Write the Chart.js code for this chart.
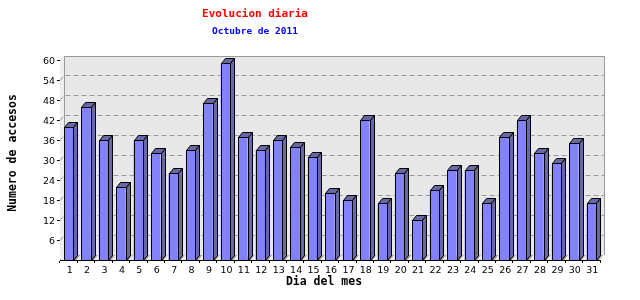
<!DOCTYPE html>
<html>
<head>
<meta charset="utf-8">
<title>Evolucion diaria</title>
<script src="https://cdn.jsdelivr.net/npm/chart.js@4/dist/chart.umd.min.js"></script>
<style>
  html, body { margin: 0; padding: 0; background: #fff; }
  #wrap { width: 640px; height: 300px; position: relative; }
</style>
</head>
<body>
<div id="wrap"><canvas id="chart"></canvas></div>
<script>
"use strict";

var days = [];
for (var d = 1; d <= 31; d++) days.push(String(d));
var accesos = [40, 46, 36, 22, 36, 32, 26, 33, 47, 59, 37, 33, 36, 34, 31, 20,
  18, 42, 17, 26, 12, 21, 27, 27, 17, 37, 42, 32, 29, 35, 17];
var yTicks = [6, 12, 18, 24, 30, 36, 42, 48, 54, 60];

var titleText = 'Evolucion diaria';
var subtitleText = 'Octubre de 2011';
var xTitle = 'Dia del mes';
var yTitle = 'Numero de accesos';

var DEPTH_X = 4;
var DEPTH_Y = 5;
var MONO = '"DejaVu Sans Mono", monospace';

function poly(ctx, pts, fill, stroke) {
  ctx.beginPath();
  ctx.moveTo(pts[0][0], pts[0][1]);
  for (var i = 1; i < pts.length; i++) ctx.lineTo(pts[i][0], pts[i][1]);
  ctx.closePath();
  if (fill) { ctx.fillStyle = fill; ctx.fill(); }
  if (stroke) { ctx.strokeStyle = stroke; ctx.lineWidth = 1; ctx.stroke(); }
}

// back wall, floor and the dashed grid
var wallPlugin = {
  id: 'wall3d',
  beforeDatasetsDraw: function(chart) {
    var ctx = chart.ctx, a = chart.chartArea, y = chart.scales.y;
    var L = a.left, R = a.right, T = a.top, B = a.bottom;
    ctx.save();
    poly(ctx, [[L + DEPTH_X, T - DEPTH_Y + 1], [R + DEPTH_X, T - DEPTH_Y + 1],
      [R + DEPTH_X, B - DEPTH_Y], [L + DEPTH_X, B - DEPTH_Y]], '#e8e8e8', null);
    poly(ctx, [[L, T], [L + DEPTH_X, T - DEPTH_Y + 1], [L + DEPTH_X, B - DEPTH_Y], [L, B]], '#eeeeee', null);
    poly(ctx, [[L, B], [L + DEPTH_X, B - DEPTH_Y], [R + DEPTH_X, B - DEPTH_Y], [R, B]], '#eeeeee', null);

    ctx.strokeStyle = '#999999';
    ctx.lineWidth = 1;
    ctx.beginPath();
    ctx.moveTo(L + DEPTH_X + 0.5, B - DEPTH_Y);
    ctx.lineTo(L + DEPTH_X + 0.5, T - DEPTH_Y + 1.5);
    ctx.lineTo(R + DEPTH_X + 0.5, T - DEPTH_Y + 1.5);
    ctx.lineTo(R + DEPTH_X + 0.5, B - DEPTH_Y);
    ctx.stroke();

    ctx.setLineDash([5, 3]);
    yTicks.forEach(function(v) {
      if (v >= 60) return;
      var py = Math.round(y.getPixelForValue(v)) + 0.5;
      ctx.beginPath();
      ctx.moveTo(L, py);
      ctx.lineTo(L + DEPTH_X, py - DEPTH_Y);
      ctx.lineTo(R + DEPTH_X, py - DEPTH_Y);
      ctx.stroke();
    });
    ctx.setLineDash([]);

    // shadows of the bars on the floor
    var meta = chart.getDatasetMeta(0);
    meta.data.forEach(function(bar) {
      var xr = bar.x + bar.width / 2;
      poly(ctx, [[xr - 3, B], [xr - 3 + DEPTH_X, B - DEPTH_Y], [xr + DEPTH_X + 3, B - DEPTH_Y], [xr + 3, B]], '#a0a0a0', null);
    });
    ctx.restore();
  },
  afterDatasetsDraw: function(chart) {
    var ctx = chart.ctx;
    var meta = chart.getDatasetMeta(0);
    ctx.save();
    meta.data.forEach(function(bar) {
      var xl = Math.round(bar.x - bar.width / 2) + 0.5;
      var xr = Math.round(bar.x + bar.width / 2) + 0.5;
      var yt = Math.round(bar.y) + 0.5;
      var yb = Math.round(bar.base) + 0.5;
      poly(ctx, [[xl, yt], [xl + DEPTH_X, yt - DEPTH_Y], [xr + DEPTH_X, yt - DEPTH_Y], [xr, yt]], '#6868a4', '#000');
      poly(ctx, [[xr, yt], [xr + DEPTH_X, yt - DEPTH_Y], [xr + DEPTH_X, yb - DEPTH_Y], [xr, yb]], '#6868a4', '#000');
      poly(ctx, [[xl, yt], [xr, yt], [xr, yb], [xl, yb]], null, '#000');
    });
    ctx.restore();
  }
};

// titles placed where the original image has them
var textPlugin = {
  id: 'texts',
  afterDraw: function(chart) {
    var ctx = chart.ctx;
    ctx.save();
    ctx.textAlign = 'center';
    ctx.textBaseline = 'middle';
    ctx.fillStyle = '#ff0000';
    ctx.font = 'bold 11px ' + MONO;
    ctx.fillText(titleText, 255, 14);
    ctx.fillStyle = '#0000ff';
    ctx.font = 'bold 9.5px ' + MONO;
    ctx.fillText(subtitleText, 255, 32);
    ctx.fillStyle = '#000000';
    ctx.font = 'bold 11.5px ' + MONO;
    ctx.fillText(xTitle, 324, 282);
    ctx.translate(13, 153);
    ctx.rotate(-Math.PI / 2);
    ctx.fillText(yTitle, 0, 0);
    ctx.restore();
  }
};

var canvas = document.getElementById('chart');
new Chart(canvas, {
  type: 'bar',
  data: {
    labels: days,
    datasets: [{
      data: accesos,
      backgroundColor: '#8282ff',
      borderWidth: 0,
      barPercentage: 0.54,
      categoryPercentage: 1
    }]
  },
  options: {
    responsive: true,
    maintainAspectRatio: false,
    animation: false,
    events: [],
    layout: { padding: { left: 0, right: 40, top: 60, bottom: 0 } },
    plugins: {
      legend: { display: false },
      tooltip: { enabled: false }
    },
    scales: {
      x: {
        offset: true,
        afterFit: function(scale) { scale.height = 40; },
        border: { color: '#000', width: 1 },
        grid: { offset: true, drawOnChartArea: false, drawTicks: true, tickLength: 3, color: '#000' },
        ticks: {
          color: '#000', padding: 2, labelOffset: 1, autoSkip: false, maxRotation: 0,
          font: { family: '"DejaVu Sans", sans-serif', size: 9.5 }
        }
      },
      y: {
        min: 0,
        max: 60,
        afterFit: function(scale) { scale.width = 60; },
        afterBuildTicks: function(scale) {
          scale.ticks = yTicks.map(function(v) { return { value: v }; });
        },
        border: { color: '#000', width: 1 },
        grid: { drawOnChartArea: false, drawTicks: true, tickLength: 3, color: '#000' },
        ticks: {
          color: '#000', padding: 2, labelOffset: 2,
          font: { family: '"DejaVu Sans", sans-serif', size: 9.5 }
        }
      }
    }
  },
  plugins: [wallPlugin, textPlugin]
});
</script>
</body>
</html>
